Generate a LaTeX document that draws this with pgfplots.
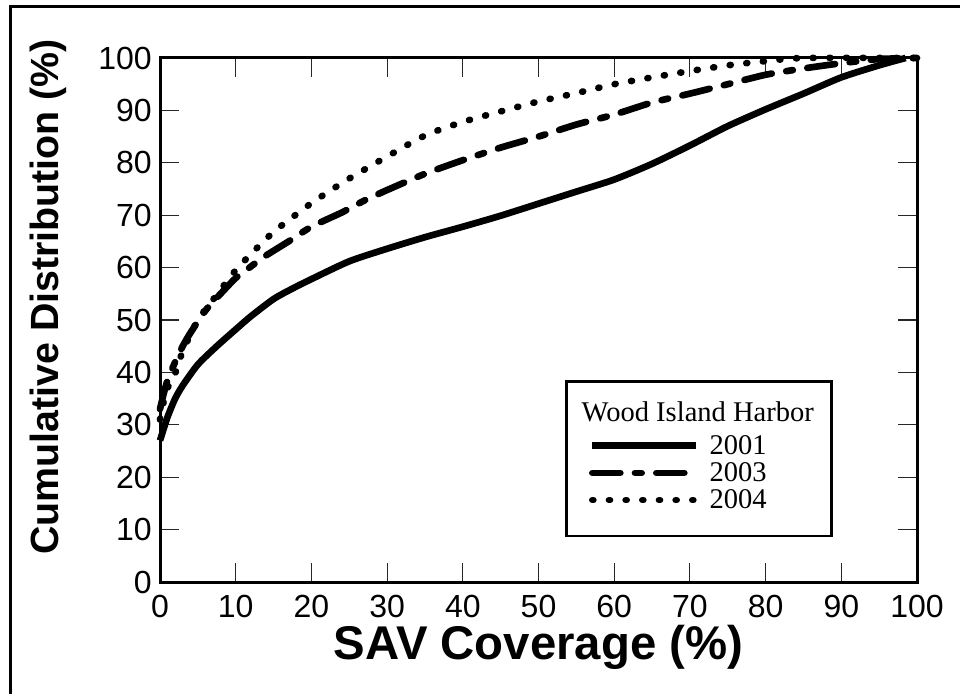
\documentclass[border=0pt]{standalone}
\usepackage{fontspec}
\setmainfont{Liberation Sans}
\newfontfamily\legfont{Liberation Serif}
\usepackage{pgfplots}
\pgfplotsset{compat=1.18}
\begin{document}
\begin{tikzpicture}
\useasboundingbox (0,0) rectangle (720pt,519.75pt);
\draw[line width=2.25pt] (7.5pt,-20pt) -- (7.5pt,514.5pt) -- (740pt,514.5pt);
\begin{axis}[
  at={(120pt,83.25pt)}, anchor=south west,
  scale only axis, width=567.75pt, height=393pt,
  xmin=0, xmax=100, ymin=0, ymax=100,
  xtick={0,10,...,100}, ytick={0,10,...,100},
  tick pos=both, xticklabel pos=lower, yticklabel pos=left,
  tick align=inside, major tick length=14pt,
  every tick/.style={black!85, line width=0.8pt},
  axis line style={line width=2.25pt},
  ticklabel style={font=\fontsize{24}{24}\selectfont, inner sep=0pt},
  xticklabel style={anchor=center, yshift=-18pt},
  yticklabel style={anchor=east, xshift=-6pt},
  /pgf/number format/assume math mode=true,
  clip=false,
  xlabel={SAV Coverage (\%)},
  ylabel={Cumulative Distribution (\%)},
  xlabel style={font=\bfseries\fontsize{35.5}{35.5}\selectfont, at={(axis description cs:0.5,-0.125)}, anchor=center},
  ylabel style={font=\bfseries\fontsize{29.5}{29.5}\selectfont, at={(axis description cs:-0.148,0.544)}, anchor=center},
  legend style={at={(axis cs:53.5,38.5)}, anchor=north west, draw=black, line width=2pt,
    font=\legfont\fontsize{21.4}{23}\selectfont, inner xsep=17pt, inner ysep=17pt,
    column sep=5.5pt, row sep=0.75pt},
  legend cell align=left,
  legend image code/.code={\draw[#1, line width=5pt] (0pt,0pt) -- (78pt,0pt);},
]
\addlegendimage{empty legend}
\addlegendentry{\hspace*{-96pt}\raisebox{3.75pt}[\height][\depth]{Wood Island Harbor}\hspace*{-6pt}}

% 2001
\addplot[black, line width=5pt, line join=round, smooth, tension=0.4] coordinates {
(0,27) (1,31.5) (2,35) (3,37.5) (5,41.5) (7.5,45) (10,48.2) (12,50.7) (15,54)
(17.5,56) (20,57.8) (25,61.2) (30,63.6) (35,65.8) (40,67.8) (45,69.9) (50,72.2)
(55,74.5) (60,76.8) (65,79.8) (70,83.3) (75,87) (80,90.2) (85,93.2) (90,96.3)
(95,98.6) (98.5,100)};
\addlegendentry{2001}

% 2003
\addplot[black, line width=5pt, line cap=round, smooth, tension=0.4,
  dash pattern=on 21pt off 11pt on 5pt off 11pt] coordinates {
(0,33) (0.5,36) (1,38.5) (2,42) (3,45) (4,47.5) (6,51.8) (8,55) (10,58) (12,60.2)
(14,62.3) (17,65) (20,67.8) (24,70.5) (27,72.8) (30,74.8) (35,77.9) (40,80.5)
(45,82.9) (50,85) (55,87.3) (60,89.2) (65,91.5) (70,93.2) (75,95) (80,96.8)
(85,98) (90,99) (95,99.8) (100,100)};
\addlegendentry{2003}

% 2004
\addplot[black, line width=5pt, line cap=round, smooth, tension=0.4,
  dash pattern=on 0.75pt off 11.75pt] coordinates {
(0,31) (0.5,34.5) (1,37) (2,39.8) (3,44) (5,50) (7.5,54.8) (10,59.5) (12.5,63.3)
(15,66.8) (17.5,69.6) (20,72.3) (22.5,74.7) (25,77) (30,81.2) (35,85.2) (40,87.8)
(45,89.8) (50,91.7) (55,93.3) (60,95) (65,96.3) (70,97.5) (75,98.6) (80,99.4)
(85,100) (100,100)};
\addlegendentry{2004}
\end{axis}
\end{tikzpicture}
\end{document}
